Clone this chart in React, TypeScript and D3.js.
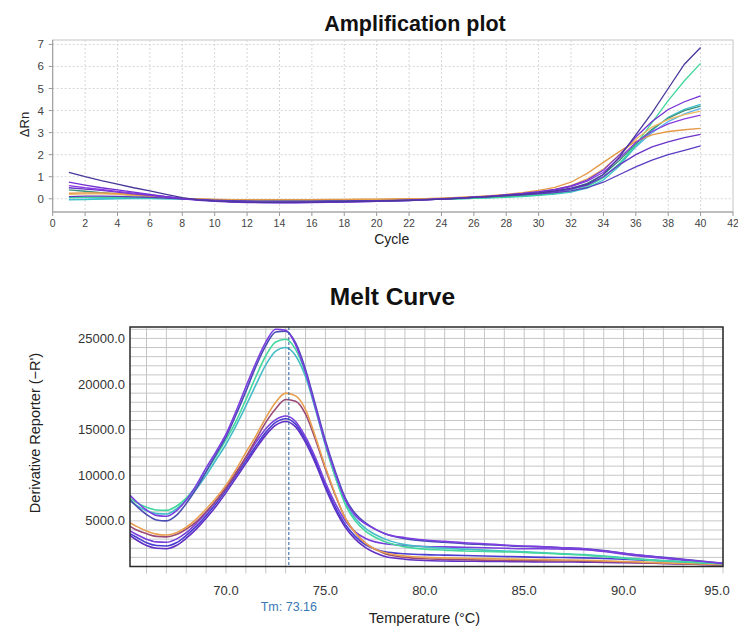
import React from "react";
import * as d3 from "d3";

// ---------------- Amplification plot data ----------------
const cycles = [1, 2, 3, 4, 5, 6, 7, 8, 9, 10, 11, 12, 13, 14, 15, 16, 17, 18, 19, 20, 21, 22, 23, 24, 25, 26, 27, 28, 29, 30, 31, 32, 33, 34, 35, 36, 37, 38, 39, 40];
const ampXTicks = [0, 2, 4, 6, 8, 10, 12, 14, 16, 18, 20, 22, 24, 26, 28, 30, 32, 34, 36, 38, 40, 42];
const ampYTicks = [0, 1, 2, 3, 4, 5, 6, 7];

const ampA = [1.2, 1.0, 0.82, 0.66, 0.5, 0.36, 0.2, 0.05, -0.05, -0.1, -0.13, -0.15, -0.16, -0.16, -0.15, -0.15, -0.14, -0.13, -0.12, -0.11, -0.09, -0.07, -0.05, -0.02, 0.02, 0.06, 0.1, 0.15, 0.2, 0.27, 0.36, 0.48, 0.66, 1.1, 1.9, 2.9, 3.9, 5.0, 6.1, 6.86];
const ampB = [0.05, 0.06, 0.07, 0.07, 0.06, 0.05, 0.03, 0.0, -0.03, -0.05, -0.06, -0.07, -0.07, -0.07, -0.07, -0.07, -0.06, -0.06, -0.05, -0.05, -0.04, -0.04, -0.03, -0.02, 0.0, 0.02, 0.05, 0.08, 0.12, 0.17, 0.24, 0.35, 0.55, 0.95, 1.6, 2.45, 3.45, 4.45, 5.35, 6.14];
const ampC = [0.75, 0.62, 0.5, 0.4, 0.3, 0.2, 0.1, 0.0, -0.07, -0.12, -0.15, -0.17, -0.18, -0.18, -0.18, -0.17, -0.16, -0.15, -0.14, -0.12, -0.1, -0.08, -0.05, -0.02, 0.02, 0.07, 0.12, 0.18, 0.24, 0.32, 0.42, 0.58, 0.85, 1.3, 2.0, 2.8, 3.5, 4.05, 4.4, 4.67];
const ampD = [-0.05, -0.04, -0.02, 0.0, 0.01, 0.01, 0.0, -0.01, -0.03, -0.04, -0.05, -0.05, -0.05, -0.05, -0.05, -0.05, -0.05, -0.04, -0.04, -0.04, -0.03, -0.03, -0.02, -0.01, 0.0, 0.02, 0.04, 0.07, 0.1, 0.15, 0.21, 0.3, 0.48, 0.85, 1.5, 2.4, 3.1, 3.7, 4.05, 4.28];
const ampE = [0.4, 0.34, 0.28, 0.22, 0.16, 0.1, 0.05, 0.0, -0.04, -0.07, -0.09, -0.1, -0.11, -0.11, -0.11, -0.1, -0.1, -0.09, -0.08, -0.07, -0.06, -0.05, -0.03, -0.01, 0.02, 0.05, 0.09, 0.13, 0.18, 0.24, 0.32, 0.45, 0.7, 1.1, 1.75, 2.5, 3.15, 3.65, 4.0, 4.2];
const ampF = [0.2, 0.22, 0.22, 0.2, 0.16, 0.11, 0.06, 0.02, -0.01, -0.03, -0.04, -0.05, -0.05, -0.05, -0.05, -0.05, -0.04, -0.04, -0.03, -0.03, -0.02, -0.01, 0.0, 0.02, 0.05, 0.08, 0.12, 0.17, 0.23, 0.31, 0.42, 0.6, 0.9, 1.35, 2.0, 2.7, 3.25, 3.6, 3.82, 3.97];
const ampG = [0.6, 0.5, 0.42, 0.34, 0.26, 0.18, 0.1, 0.02, -0.05, -0.1, -0.13, -0.15, -0.16, -0.17, -0.17, -0.16, -0.15, -0.14, -0.13, -0.12, -0.1, -0.08, -0.05, -0.02, 0.02, 0.06, 0.11, 0.17, 0.23, 0.3, 0.4, 0.55, 0.8, 1.2, 1.85, 2.55, 3.05, 3.4, 3.62, 3.79];
const ampH = [0.25, 0.27, 0.27, 0.24, 0.19, 0.13, 0.07, 0.02, -0.01, -0.03, -0.04, -0.04, -0.04, -0.04, -0.04, -0.04, -0.03, -0.03, -0.02, -0.02, -0.01, 0.0, 0.01, 0.03, 0.06, 0.1, 0.14, 0.2, 0.28, 0.38, 0.52, 0.75, 1.15, 1.65, 2.15, 2.6, 2.9, 3.05, 3.13, 3.19];
const ampI = [0.5, 0.44, 0.38, 0.3, 0.22, 0.15, 0.08, 0.01, -0.05, -0.1, -0.13, -0.15, -0.16, -0.16, -0.16, -0.15, -0.14, -0.13, -0.12, -0.1, -0.09, -0.07, -0.04, -0.01, 0.03, 0.07, 0.11, 0.15, 0.2, 0.26, 0.33, 0.44, 0.62, 1.0, 1.55, 2.0, 2.35, 2.58, 2.77, 2.92];
const ampJ = [0.1, 0.12, 0.12, 0.11, 0.09, 0.06, 0.03, 0.0, -0.03, -0.06, -0.08, -0.1, -0.11, -0.11, -0.11, -0.11, -0.1, -0.1, -0.09, -0.08, -0.07, -0.05, -0.03, 0.0, 0.03, 0.07, 0.1, 0.14, 0.18, 0.22, 0.28, 0.36, 0.5, 0.75, 1.1, 1.45, 1.75, 2.0, 2.2, 2.4];
const ampK = [-0.03, -0.02, 0.0, 0.02, 0.02, 0.02, 0.01, 0.0, -0.02, -0.04, -0.05, -0.06, -0.06, -0.06, -0.06, -0.06, -0.05, -0.05, -0.05, -0.04, -0.04, -0.03, -0.02, -0.01, 0.01, 0.03, 0.06, 0.09, 0.13, 0.19, 0.27, 0.4, 0.62, 1.0, 1.6, 2.35, 3.0, 3.5, 3.85, 4.1];

const ampSeries = [
  { values: ampK, color: "#5ab4e6" },
  { values: ampD, color: "#3cc0c8" },
  { values: ampB, color: "#3ed69a" },
  { values: ampE, color: "#3a8f78" },
  { values: ampF, color: "#f0b860" },
  { values: ampH, color: "#e49a48" },
  { values: ampJ, color: "#5a3cc0" },
  { values: ampI, color: "#6a34c8" },
  { values: ampG, color: "#8a3ce0" },
  { values: ampC, color: "#7430d4" },
  { values: ampA, color: "#48389a" },
];

// ---------------- Melt curve data ----------------
const temps = [65.17, 65.5, 66, 66.5, 67, 67.5, 68, 68.5, 69, 69.5, 70, 70.5, 71, 71.5, 72, 72.5, 73, 73.5, 74, 74.5, 75, 75.5, 76, 76.5, 77, 77.5, 78, 79, 80, 81, 82, 83, 84, 85, 86, 87, 88, 89, 90, 91, 92, 93, 94, 95];
const meltXTicks = [70, 75, 80, 85, 90, 95];
const meltXGrid = [66, 67, 68, 69, 70, 71, 72, 73, 74, 75, 76, 77, 78, 79, 80, 81, 82, 83, 84, 85, 86, 87, 88, 89, 90, 91, 92, 93, 94, 95];
const meltYTicks = [5000, 10000, 15000, 20000, 25000];
const meltYGrid = [1000, 2000, 3000, 4000, 5000, 6000, 7000, 8000, 9000, 10000, 11000, 12000, 13000, 14000, 15000, 16000, 17000, 18000, 19000, 20000, 21000, 22000, 23000, 24000, 25000, 26000];
const tmValue = 73.16;

const meltA1 = [7800, 7100, 6200, 5600, 5500, 6100, 7300, 8900, 10800, 12600, 14500, 17000, 19700, 22300, 24600, 26000, 25900, 24300, 21300, 17400, 13500, 10200, 7300, 5600, 4700, 4100, 3600, 3150, 2900, 2750, 2600, 2500, 2350, 2250, 2150, 2050, 1950, 1700, 1450, 1200, 950, 750, 550, 330];
const meltA2 = [7300, 6600, 5700, 5100, 5000, 5600, 6900, 8500, 10400, 12300, 14200, 16600, 19200, 21900, 24200, 25700, 25800, 24500, 21600, 17700, 13800, 10400, 7500, 5800, 4800, 4100, 3600, 3050, 2800, 2650, 2500, 2400, 2300, 2200, 2150, 2050, 1950, 1750, 1450, 1200, 1000, 800, 580, 350];
const meltA3 = [7500, 7000, 6500, 6200, 6150, 6600, 7500, 8800, 10400, 12100, 13900, 15900, 18300, 20800, 23100, 24600, 24900, 23800, 21200, 17400, 13400, 9800, 6800, 5000, 3900, 3200, 2700, 2150, 1900, 1800, 1700, 1650, 1600, 1550, 1450, 1350, 1250, 1100, 900, 750, 600, 500, 400, 300];
const meltA4 = [7200, 6700, 6100, 5800, 5750, 6300, 7300, 8500, 10000, 11700, 13400, 15400, 17600, 19900, 22100, 23600, 24000, 23100, 20800, 17200, 13300, 9800, 7000, 5300, 4200, 3500, 3000, 2400, 2150, 2000, 1900, 1800, 1700, 1600, 1500, 1400, 1300, 1150, 950, 800, 650, 530, 420, 300];
const meltB1 = [4800, 4400, 3900, 3550, 3450, 3700, 4300, 5200, 6300, 7500, 8900, 10600, 12500, 14300, 16300, 18000, 19000, 18700, 17200, 14200, 10900, 7900, 5300, 3700, 2600, 1900, 1500, 1150, 1000, 950, 900, 860, 820, 780, 750, 720, 680, 620, 550, 480, 400, 330, 270, 200];
const meltB2 = [4400, 4000, 3600, 3300, 3250, 3500, 4100, 4900, 6000, 7200, 8600, 10200, 12000, 13900, 15800, 17300, 18300, 18100, 16700, 13900, 10700, 7800, 5300, 3700, 2600, 1900, 1400, 1000, 850, 800, 750, 700, 680, 650, 620, 600, 570, 520, 460, 400, 340, 280, 230, 180];
const meltC1 = [3900, 3500, 3000, 2700, 2650, 3000, 3700, 4700, 5900, 7200, 8700, 10300, 11900, 13600, 15100, 16100, 16500, 15900, 14200, 11900, 9200, 6900, 5000, 3800, 3100, 2700, 2500, 2300, 2200, 2150, 2100, 2050, 2000, 1950, 1950, 1900, 1850, 1650, 1350, 1100, 900, 700, 500, 300];
const meltC2 = [3600, 3200, 2600, 2300, 2250, 2600, 3400, 4400, 5600, 6900, 8400, 10000, 11600, 13200, 14700, 15800, 16200, 15600, 13900, 11600, 8900, 6500, 4600, 3300, 2400, 1900, 1600, 1400, 1300, 1250, 1200, 1150, 1100, 1050, 1000, 980, 950, 880, 800, 700, 600, 500, 400, 300];
const meltC3 = [3400, 2900, 2300, 2000, 1950, 2300, 3100, 4100, 5300, 6600, 8100, 9700, 11300, 12900, 14400, 15500, 15900, 15300, 13600, 11300, 8600, 6200, 4300, 3000, 2100, 1500, 1100, 800, 650, 600, 580, 560, 540, 520, 500, 490, 480, 450, 420, 380, 330, 280, 230, 180];

const meltSeries = [
  { values: meltC3, color: "#6230c4" },
  { values: meltC2, color: "#4a3cd0" },
  { values: meltC1, color: "#7a40dc" },
  { values: meltB2, color: "#9a4a78" },
  { values: meltB1, color: "#e8a050" },
  { values: meltA4, color: "#46bcc8" },
  { values: meltA3, color: "#44d89e" },
  { values: meltA2, color: "#4a4cb4" },
  { values: meltA1, color: "#7c3ee0" },
];

const FONT = "Arial, 'Liberation Sans', Helvetica, sans-serif";

function AmplificationPlot() {
  const x = d3.scaleLinear().domain([0, 42]).range([52.7, 733]);
  const y = d3.scaleLinear().domain([-0.6, 7.2]).range([212, 40]);
  const line = d3
    .line<number>()
    .x((_, i) => x(cycles[i]))
    .y((d) => y(d));
  const [x0, x1] = x.range();
  const [yb, yt] = y.range();
  return (
    <g>
      <defs>
        <clipPath id="ampClip">
          <rect x={x0} y={yt} width={x1 - x0} height={yb - yt} />
        </clipPath>
      </defs>
      <text x={415} y={31} textAnchor="middle" fontFamily={FONT} fontWeight="bold" fontSize={21.5} fill="#111">
        Amplification plot
      </text>
      <rect x={x0} y={yt} width={x1 - x0} height={yb - yt} fill="#fff" stroke="#c4c4c4" />
      {ampXTicks.slice(1, -1).map((t) => (
        <line key={"gx" + t} x1={x(t)} x2={x(t)} y1={yt} y2={yb} stroke="#d6d6d6" strokeDasharray="2,2" />
      ))}
      {ampYTicks.map((t) => (
        <line key={"gy" + t} x1={x0} x2={x1} y1={y(t)} y2={y(t)} stroke="#d6d6d6" strokeDasharray="2,2" />
      ))}
      <line x1={x0} x2={x0} y1={yt} y2={yb} stroke="#9a9a9a" />
      <line x1={x0} x2={x1} y1={yb} y2={yb} stroke="#9a9a9a" />
      {ampYTicks.map((t) => (
        <g key={"ty" + t}>
          <line x1={x0 - 4} x2={x0} y1={y(t)} y2={y(t)} stroke="#9a9a9a" />
          <text x={44} y={y(t) + 4} textAnchor="end" fontFamily={FONT} fontSize={11.5} fill="#444">
            {t}
          </text>
        </g>
      ))}
      {ampXTicks.map((t) => (
        <g key={"tx" + t}>
          <line x1={x(t)} x2={x(t)} y1={yb} y2={yb + 4} stroke="#9a9a9a" />
          <text x={x(t)} y={227} textAnchor="middle" fontFamily={FONT} fontSize={10.5} fill="#444">
            {t}
          </text>
        </g>
      ))}
      <text x={391.7} y={244} textAnchor="middle" fontFamily={FONT} fontSize={14} fill="#222">
        Cycle
      </text>
      <text
        transform={`translate(28.5,124.5) rotate(-90)`}
        textAnchor="middle"
        fontFamily={FONT}
        fontSize={13}
        fill="#222"
      >
        ΔRn
      </text>
      <g clipPath="url(#ampClip)">
        {ampSeries.map((s, i) => (
          <path key={i} d={line(s.values) || ""} fill="none" stroke={s.color} strokeWidth={1.3} />
        ))}
      </g>
    </g>
  );
}

function MeltPlot() {
  const x = d3.scaleLinear().domain([65.17, 95]).range([130, 723]);
  const y = d3.scaleLinear().domain([0, 26250]).range([566.5, 327]);
  const line = d3
    .line<number>()
    .x((_, i) => x(temps[i]))
    .y((d) => y(d))
    .curve(d3.curveMonotoneX);
  const [x0, x1] = x.range();
  const [yb, yt] = y.range();
  return (
    <g>
      <defs>
        <clipPath id="meltClip">
          <rect x={x0} y={yt} width={x1 - x0} height={yb - yt} />
        </clipPath>
      </defs>
      <text x={392.5} y={305} textAnchor="middle" fontFamily={FONT} fontWeight="bold" fontSize={24.5} fill="#111">
        Melt Curve
      </text>
      {meltXGrid.map((t) => (
        <g key={"gx" + t}>
          <line x1={x(t)} x2={x(t)} y1={yt} y2={yb} stroke="#c6c6c6" />
          <line x1={x(t)} x2={x(t)} y1={yb} y2={yb + 7} stroke="#c6c6c6" />
        </g>
      ))}
      {meltYGrid.map((t) => (
        <line key={"gy" + t} x1={x0} x2={x1} y1={y(t)} y2={y(t)} stroke="#c6c6c6" />
      ))}
      <g clipPath="url(#meltClip)">
        {meltSeries.map((s, i) => (
          <path key={i} d={line(s.values) || ""} fill="none" stroke={s.color} strokeWidth={1.6} />
        ))}
      </g>
      <line
        x1={x(tmValue)}
        x2={x(tmValue)}
        y1={yt}
        y2={yb}
        stroke="#2a5fa0"
        strokeWidth={1}
        strokeDasharray="3,2"
      />
      <rect x={x0} y={yt} width={x1 - x0} height={yb - yt} fill="none" stroke="#2a2a2a" strokeWidth={1.5} />
      {meltYTicks.map((t) => (
        <text key={"ty" + t} x={125} y={y(t) + 4.5} textAnchor="end" fontFamily={FONT} fontSize={13} fill="#333">
          {d3.format(".1f")(t)}
        </text>
      ))}
      {meltXTicks.map((t, i) => (
        <text
          key={"tx" + t}
          x={i === meltXTicks.length - 1 ? x(t) - 6 : x(t)}
          y={595}
          textAnchor="middle"
          fontFamily={FONT}
          fontSize={13}
          fill="#333"
        >
          {d3.format(".1f")(t)}
        </text>
      ))}
      <text x={x(tmValue)} y={611} textAnchor="middle" fontFamily={FONT} fontSize={12.5} fill="#3a78b4">
        {"Tm: " + d3.format(".2f")(tmValue)}
      </text>
      <text x={424.5} y={623} textAnchor="middle" fontFamily={FONT} fontSize={14.5} fill="#222">
        Temperature (°C)
      </text>
      <text
        transform={`translate(40,433) rotate(-90)`}
        textAnchor="middle"
        fontFamily={FONT}
        fontSize={14.5}
        fill="#222"
      >
        Derivative Reporter (−R')
      </text>
    </g>
  );
}

export default function App() {
  return (
    <svg
      width={738}
      height={633}
      viewBox="0 0 738 633"
      style={{ position: "absolute", left: 0, top: 0, background: "#fff", display: "block" }}
    >
      <rect x={0} y={0} width={738} height={633} fill="#fff" />
      <AmplificationPlot />
      <MeltPlot />
    </svg>
  );
}
